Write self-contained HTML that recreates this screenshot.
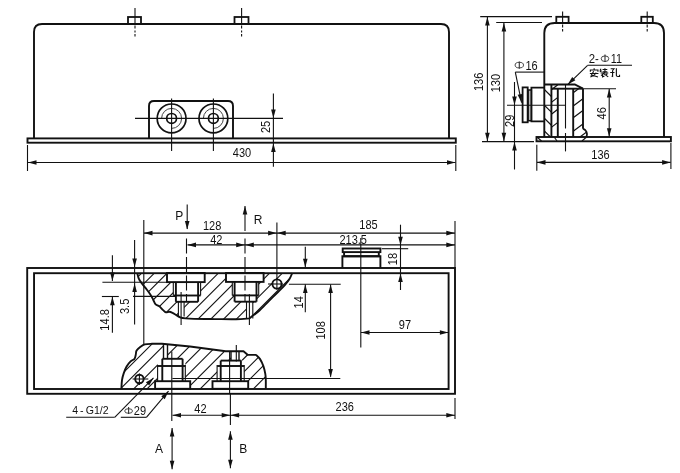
<!DOCTYPE html>
<html><head><meta charset="utf-8"><style>
html,body{margin:0;padding:0;background:#fff;width:680px;height:473px;overflow:hidden}
svg{display:block;font-family:"Liberation Sans",sans-serif;filter:blur(0.35px)}
</style></head><body>
<svg width="680" height="473" viewBox="0 0 680 473" font-family="'Liberation Sans', sans-serif">
<defs>
<clipPath id="clipSide"><path d="M544.3,84.5 H574.8 L583,88.7 V128.7 C586,130 588,133 587,137 H544.3 Z"/></clipPath>
<clipPath id="clipU"><path d="M137.3,273.3 C137.57,274.22 138.17,277.15 138.9,278.8 C139.63,280.45 140.5,281.55 141.7,283.2 C142.9,284.85 144.63,286.78 146.1,288.7 C147.57,290.62 149.32,292.87 150.5,294.7 C151.68,296.53 152.38,298.13 153.2,299.7 C154.02,301.27 154.38,303 155.4,304.1 C156.42,305.2 158.02,305.3 159.3,306.3 C160.58,307.3 162,309.1 163.1,310.1 C164.2,311.1 164.88,312.02 165.9,312.3 C166.92,312.58 168.1,311.7 169.2,311.8 C170.3,311.9 171.32,312.35 172.5,312.9 C173.68,313.45 175.02,314.37 176.3,315.1 C177.58,315.83 178.65,316.75 180.2,317.3 C181.75,317.85 183.3,318.13 185.6,318.4 C187.9,318.67 189.1,318.78 194,318.9 C198.9,319.02 208,319.05 215,319.1 C222,319.15 230.27,319.32 236,319.2 C241.73,319.08 247.17,318.53 249.4,318.4 L249.4,318.4 C250.17,317.8 252.28,316.17 254,314.8 C255.72,313.43 257.23,312.48 259.7,310.2 C262.17,307.92 265.75,304.13 268.8,301.1 C271.85,298.07 275.33,294.67 278,292 C280.67,289.33 282.88,287.27 284.8,285.1 C286.72,282.93 288.27,281 289.5,279 C290.73,277 291.75,274.08 292.2,273.1 Z"/></clipPath>
<clipPath id="clipL"><path d="M121.4,388.8 C121.5,387.37 121.62,382.77 122,380.2 C122.38,377.63 122.93,375.68 123.7,373.4 C124.47,371.12 125.45,368.5 126.6,366.5 C127.75,364.5 129.28,362.68 130.6,361.4 C131.92,360.12 133.65,359.85 134.5,358.8 C135.35,357.75 135.35,356.47 135.7,355.1 C136.05,353.73 135.8,351.98 136.6,350.6 C137.4,349.22 139.13,347.83 140.5,346.8 C141.87,345.77 142.88,344.9 144.8,344.4 C146.72,343.9 149.13,343.9 152,343.8 C154.87,343.7 160.33,343.8 162,343.8 L190,346.5 L225.7,351.3 L243.5,351.2 L247.9,354.9 L255.9,354.9 C256.57,355.57 258.67,357.07 259.9,358.9 C261.13,360.73 262.4,363.42 263.3,365.9 C264.2,368.38 264.88,371.45 265.3,373.8 C265.72,376.15 265.72,377.5 265.8,380 C265.88,382.5 265.8,387.33 265.8,388.8 Z"/></clipPath>
</defs>
<rect width="680" height="473" fill="#fff"/>
<path d="M34,138.5 V32 Q34,24 42,24 H441 Q449,24 449,32 V138.5" fill="none" stroke="#111" stroke-width="1.9"/>
<rect x="128" y="17" width="13" height="7" fill="none" stroke="#111" stroke-width="1.8"/>
<rect x="234.5" y="17" width="14" height="7" fill="none" stroke="#111" stroke-width="1.8"/>
<line x1="135" y1="8" x2="135" y2="24" stroke="#111" stroke-width="1.1"/>
<line x1="135" y1="25.5" x2="135" y2="28.5" stroke="#111" stroke-width="1.1"/>
<line x1="135" y1="30.5" x2="135" y2="32.5" stroke="#111" stroke-width="1.1"/>
<line x1="135" y1="34" x2="135" y2="36.5" stroke="#111" stroke-width="1.1"/>
<line x1="241.6" y1="8" x2="241.6" y2="24" stroke="#111" stroke-width="1.1"/>
<line x1="241.6" y1="25.5" x2="241.6" y2="28.5" stroke="#111" stroke-width="1.1"/>
<line x1="241.6" y1="30.5" x2="241.6" y2="32.5" stroke="#111" stroke-width="1.1"/>
<line x1="241.6" y1="34" x2="241.6" y2="36.5" stroke="#111" stroke-width="1.1"/>
<rect x="27.5" y="138.4" width="428.3" height="4.3" fill="none" stroke="#111" stroke-width="1.9"/>
<path d="M149,138.4 V106 Q149,101 154,101 H228 Q233,101 233,106 V138.4" fill="none" stroke="#111" stroke-width="1.9"/>
<circle cx="171.6" cy="118.4" r="14.4" fill="none" stroke="#111" stroke-width="1.7"/>
<circle cx="171.6" cy="118.4" r="4.9" fill="none" stroke="#111" stroke-width="1.7"/>
<path d="M161.60,118.40 A10.0,10.0 0 1 1 171.60,128.40" fill="none" stroke="#444" stroke-width="1.0"/>
<line x1="171.6" y1="98.5" x2="171.6" y2="151" stroke="#111" stroke-width="1.1"/>
<circle cx="213.4" cy="118.4" r="14.4" fill="none" stroke="#111" stroke-width="1.7"/>
<circle cx="213.4" cy="118.4" r="4.9" fill="none" stroke="#111" stroke-width="1.7"/>
<path d="M203.40,118.40 A10.0,10.0 0 1 1 213.40,128.40" fill="none" stroke="#444" stroke-width="1.0"/>
<line x1="213.4" y1="98.5" x2="213.4" y2="151" stroke="#111" stroke-width="1.1"/>
<line x1="135" y1="118.4" x2="283" y2="118.4" stroke="#111" stroke-width="1.1"/>
<line x1="27.5" y1="145" x2="27.5" y2="171" stroke="#111" stroke-width="1.1"/>
<line x1="455.8" y1="145" x2="455.8" y2="171" stroke="#111" stroke-width="1.1"/>
<line x1="28" y1="162.5" x2="455.5" y2="162.5" stroke="#111" stroke-width="1.1"/>
<polygon points="28.00,162.50 36.50,160.20 36.50,164.80" fill="#111"/>
<polygon points="455.50,162.50 447.00,164.80 447.00,160.20" fill="#111"/>
<text transform="translate(242,153.2) scale(0.92,1)" x="0" y="4.26" font-size="12" text-anchor="middle" fill="#111">430</text>
<line x1="273.4" y1="93.5" x2="273.4" y2="166.7" stroke="#111" stroke-width="1.1"/>
<polygon points="273.40,118.00 271.10,109.50 275.70,109.50" fill="#111"/>
<polygon points="273.40,143.50 275.70,152.00 271.10,152.00" fill="#111"/>
<text transform="translate(265.7,126.9) rotate(-90) scale(0.92,1)" x="0" y="4.26" font-size="12" text-anchor="middle" fill="#111">25</text>
<path d="M544.3,137 V33 Q544.3,23 554.8,23 H654 Q664,23 664,33 V137" fill="none" stroke="#111" stroke-width="1.9"/>
<rect x="556.3" y="16.8" width="12.3" height="6.2" fill="none" stroke="#111" stroke-width="1.8"/>
<rect x="641.3" y="16.8" width="11.5" height="6.2" fill="none" stroke="#111" stroke-width="1.8"/>
<line x1="562.6" y1="11.5" x2="562.6" y2="23" stroke="#111" stroke-width="1.1"/>
<line x1="562.6" y1="24.5" x2="562.6" y2="27.5" stroke="#111" stroke-width="1.1"/>
<line x1="562.6" y1="29" x2="562.6" y2="31.5" stroke="#111" stroke-width="1.1"/>
<line x1="647.2" y1="11.5" x2="647.2" y2="23" stroke="#111" stroke-width="1.1"/>
<line x1="647.2" y1="24.5" x2="647.2" y2="27.5" stroke="#111" stroke-width="1.1"/>
<line x1="647.2" y1="29" x2="647.2" y2="31.5" stroke="#111" stroke-width="1.1"/>
<rect x="536.5" y="137" width="134.4" height="4.3" fill="none" stroke="#111" stroke-width="1.9"/>
<line x1="537.5" y1="137.5" x2="541.5" y2="141" stroke="#111" stroke-width="1.1"/>
<line x1="554.5" y1="137.5" x2="557" y2="141" stroke="#111" stroke-width="1.1"/>
<line x1="582" y1="141" x2="586" y2="137.5" stroke="#111" stroke-width="1.1"/>
<line x1="480.2" y1="16.6" x2="552" y2="16.6" stroke="#111" stroke-width="1.1"/>
<line x1="496.2" y1="22.5" x2="542" y2="22.5" stroke="#111" stroke-width="1.1"/>
<line x1="482" y1="141.6" x2="534" y2="141.6" stroke="#111" stroke-width="1.1"/>
<line x1="487.4" y1="17" x2="487.4" y2="141.5" stroke="#111" stroke-width="1.1"/>
<polygon points="487.40,17.00 489.70,25.50 485.10,25.50" fill="#111"/>
<polygon points="487.40,141.30 485.10,132.80 489.70,132.80" fill="#111"/>
<text transform="translate(478.6,81.9) rotate(-90) scale(0.92,1)" x="0" y="4.26" font-size="12" text-anchor="middle" fill="#111">136</text>
<line x1="503.9" y1="23" x2="503.9" y2="141.5" stroke="#111" stroke-width="1.1"/>
<polygon points="503.90,23.00 506.20,31.50 501.60,31.50" fill="#111"/>
<polygon points="503.90,141.30 501.60,132.80 506.20,132.80" fill="#111"/>
<text transform="translate(496.1,83.1) rotate(-90) scale(0.92,1)" x="0" y="4.26" font-size="12" text-anchor="middle" fill="#111">130</text>
<line x1="514.5" y1="82" x2="514.5" y2="169.5" stroke="#111" stroke-width="1.1"/>
<polygon points="514.50,105.00 512.20,96.50 516.80,96.50" fill="#111"/>
<polygon points="514.50,142.00 516.80,150.50 512.20,150.50" fill="#111"/>
<text transform="translate(509.6,120.8) rotate(-90) scale(0.92,1)" x="0" y="4.26" font-size="12" text-anchor="middle" fill="#111">29</text>
<line x1="507" y1="105.3" x2="566" y2="105.3" stroke="#111" stroke-width="1.1"/>
<rect x="522.6" y="87.4" width="5.1" height="34.9" fill="none" stroke="#111" stroke-width="1.8"/>
<rect x="527.7" y="90" width="3.7" height="30.7" fill="none" stroke="#111" stroke-width="1.5"/>
<line x1="528.8" y1="90" x2="528.8" y2="120.7" stroke="#111" stroke-width="1.0"/>
<polyline points="544.3,87.7 531.4,87.7 531.4,121.3 544.3,121.3" fill="none" stroke="#111" stroke-width="1.8" stroke-linejoin="miter"/>
<ellipse cx="519.3" cy="65.1" rx="4.2" ry="2.8" fill="none" stroke="#333" stroke-width="0.9"/>
<line x1="519.3" y1="61.4" x2="519.3" y2="68.7" stroke="#333" stroke-width="1.1"/>
<text transform="translate(531.6,65.3) scale(0.92,1)" x="0" y="4.26" font-size="12" text-anchor="middle" fill="#111">16</text>
<line x1="515.3" y1="72.1" x2="545" y2="72.1" stroke="#111" stroke-width="1.1"/>
<line x1="515.3" y1="72.1" x2="521.6" y2="102.7" stroke="#111" stroke-width="1.1"/>
<polygon points="521.60,102.70 517.63,94.84 522.14,93.91" fill="#111"/>
<line x1="543.8" y1="76.3" x2="551.4" y2="83.8" stroke="#111" stroke-width="1.2" clip-path="url(#clipSide)"/>
<line x1="543.8" y1="89" x2="551.4" y2="96.5" stroke="#111" stroke-width="1.2" clip-path="url(#clipSide)"/>
<line x1="543.8" y1="104.6" x2="551.4" y2="112.1" stroke="#111" stroke-width="1.2" clip-path="url(#clipSide)"/>
<line x1="543.8" y1="117.7" x2="551.4" y2="125.2" stroke="#111" stroke-width="1.2" clip-path="url(#clipSide)"/>
<line x1="543.8" y1="130.4" x2="551.4" y2="137.9" stroke="#111" stroke-width="1.2" clip-path="url(#clipSide)"/>
<line x1="551.4" y1="89.8" x2="557.8" y2="84.8" stroke="#111" stroke-width="1.2" clip-path="url(#clipSide)"/>
<line x1="551.4" y1="102.4" x2="557.8" y2="97.4" stroke="#111" stroke-width="1.2" clip-path="url(#clipSide)"/>
<line x1="551.4" y1="114.3" x2="557.8" y2="109.3" stroke="#111" stroke-width="1.2" clip-path="url(#clipSide)"/>
<line x1="551.4" y1="127.4" x2="557.8" y2="122.4" stroke="#111" stroke-width="1.2" clip-path="url(#clipSide)"/>
<line x1="573.2" y1="92.7" x2="588" y2="81.7" stroke="#111" stroke-width="1.2" clip-path="url(#clipSide)"/>
<line x1="573.2" y1="106" x2="588" y2="95" stroke="#111" stroke-width="1.2" clip-path="url(#clipSide)"/>
<line x1="573.2" y1="117.7" x2="588" y2="106.7" stroke="#111" stroke-width="1.2" clip-path="url(#clipSide)"/>
<line x1="573.2" y1="131.2" x2="588" y2="120.2" stroke="#111" stroke-width="1.2" clip-path="url(#clipSide)"/>
<line x1="573.2" y1="142" x2="588" y2="131" stroke="#111" stroke-width="1.2" clip-path="url(#clipSide)"/>
<polyline points="544.3,84.5 574.8,84.5 583,88.7" fill="none" stroke="#111" stroke-width="1.9" stroke-linejoin="miter"/>
<line x1="551.4" y1="84.5" x2="551.4" y2="137" stroke="#111" stroke-width="1.9"/>
<line x1="557.8" y1="88.7" x2="557.8" y2="137" stroke="#111" stroke-width="1.9"/>
<line x1="573.2" y1="88.7" x2="573.2" y2="137" stroke="#111" stroke-width="1.9"/>
<line x1="583" y1="88.7" x2="583" y2="128.7" stroke="#111" stroke-width="1.9"/>
<path d="M583,128.7 C586,130 588,133 586.5,137" fill="none" stroke="#111" stroke-width="1.9"/>
<line x1="551.4" y1="88.7" x2="583" y2="88.7" stroke="#111" stroke-width="1.9"/>
<line x1="583" y1="88.7" x2="616" y2="88.7" stroke="#111" stroke-width="1.1"/>
<line x1="565.5" y1="85" x2="565.5" y2="128.5" stroke="#111" stroke-width="1.1"/>
<line x1="565.5" y1="133" x2="565.5" y2="151.4" stroke="#111" stroke-width="1.1"/>
<line x1="567.7" y1="84.6" x2="587.6" y2="65.3" stroke="#111" stroke-width="1.1"/>
<line x1="587.6" y1="65.3" x2="632" y2="65.3" stroke="#111" stroke-width="1.1"/>
<polygon points="567.70,84.60 572.20,77.03 575.40,80.33" fill="#111"/>
<text transform="translate(593.8,58.6) scale(0.95,1)" x="0" y="4.26" font-size="12" text-anchor="middle" fill="#111">2-</text>
<ellipse cx="605" cy="58.7" rx="3.8" ry="2.8" fill="none" stroke="#333" stroke-width="0.9"/>
<line x1="605" y1="54.5" x2="605" y2="62" stroke="#333" stroke-width="1.1"/>
<text transform="translate(616.4,58.7) scale(0.9,1)" x="0" y="4.26" font-size="12" text-anchor="middle" fill="#111">11</text>
<line x1="609.2" y1="89" x2="609.2" y2="136.8" stroke="#111" stroke-width="1.1"/>
<polygon points="609.20,89.00 611.50,97.50 606.90,97.50" fill="#111"/>
<polygon points="609.20,136.80 606.90,128.30 611.50,128.30" fill="#111"/>
<text transform="translate(601.8,113.3) rotate(-90) scale(0.92,1)" x="0" y="4.26" font-size="12" text-anchor="middle" fill="#111">46</text>
<line x1="536.8" y1="144.8" x2="536.8" y2="170.8" stroke="#111" stroke-width="1.1"/>
<line x1="670.9" y1="143" x2="670.9" y2="169" stroke="#111" stroke-width="1.1"/>
<line x1="537" y1="162.4" x2="670.6" y2="162.4" stroke="#111" stroke-width="1.1"/>
<polygon points="537.00,162.40 545.50,160.10 545.50,164.70" fill="#111"/>
<polygon points="670.60,162.40 662.10,164.70 662.10,160.10" fill="#111"/>
<text transform="translate(600.5,154.6) scale(0.92,1)" x="0" y="4.26" font-size="12" text-anchor="middle" fill="#111">136</text>
<line x1="141.9" y1="260" x2="1.9" y2="400" stroke="#111" stroke-width="1.1" clip-path="url(#clipU)"/>
<line x1="154.7" y1="260" x2="14.7" y2="400" stroke="#111" stroke-width="1.1" clip-path="url(#clipU)"/>
<line x1="167.5" y1="260" x2="27.5" y2="400" stroke="#111" stroke-width="1.1" clip-path="url(#clipU)"/>
<line x1="180.3" y1="260" x2="40.3" y2="400" stroke="#111" stroke-width="1.1" clip-path="url(#clipU)"/>
<line x1="193.1" y1="260" x2="53.1" y2="400" stroke="#111" stroke-width="1.1" clip-path="url(#clipU)"/>
<line x1="205.9" y1="260" x2="65.9" y2="400" stroke="#111" stroke-width="1.1" clip-path="url(#clipU)"/>
<line x1="218.7" y1="260" x2="78.7" y2="400" stroke="#111" stroke-width="1.1" clip-path="url(#clipU)"/>
<line x1="231.5" y1="260" x2="91.5" y2="400" stroke="#111" stroke-width="1.1" clip-path="url(#clipU)"/>
<line x1="244.3" y1="260" x2="104.3" y2="400" stroke="#111" stroke-width="1.1" clip-path="url(#clipU)"/>
<line x1="257.1" y1="260" x2="117.1" y2="400" stroke="#111" stroke-width="1.1" clip-path="url(#clipU)"/>
<line x1="269.9" y1="260" x2="129.9" y2="400" stroke="#111" stroke-width="1.1" clip-path="url(#clipU)"/>
<line x1="282.7" y1="260" x2="142.7" y2="400" stroke="#111" stroke-width="1.1" clip-path="url(#clipU)"/>
<line x1="295.5" y1="260" x2="155.5" y2="400" stroke="#111" stroke-width="1.1" clip-path="url(#clipU)"/>
<line x1="308.3" y1="260" x2="168.3" y2="400" stroke="#111" stroke-width="1.1" clip-path="url(#clipU)"/>
<line x1="321.1" y1="260" x2="181.1" y2="400" stroke="#111" stroke-width="1.1" clip-path="url(#clipU)"/>
<line x1="333.9" y1="260" x2="193.9" y2="400" stroke="#111" stroke-width="1.1" clip-path="url(#clipU)"/>
<line x1="236" y1="260" x2="96" y2="400" stroke="#111" stroke-width="1.1" clip-path="url(#clipL)"/>
<line x1="249.3" y1="260" x2="109.3" y2="400" stroke="#111" stroke-width="1.1" clip-path="url(#clipL)"/>
<line x1="262.6" y1="260" x2="122.6" y2="400" stroke="#111" stroke-width="1.1" clip-path="url(#clipL)"/>
<line x1="275.9" y1="260" x2="135.9" y2="400" stroke="#111" stroke-width="1.1" clip-path="url(#clipL)"/>
<line x1="289.2" y1="260" x2="149.2" y2="400" stroke="#111" stroke-width="1.1" clip-path="url(#clipL)"/>
<line x1="302.5" y1="260" x2="162.5" y2="400" stroke="#111" stroke-width="1.1" clip-path="url(#clipL)"/>
<line x1="315.8" y1="260" x2="175.8" y2="400" stroke="#111" stroke-width="1.1" clip-path="url(#clipL)"/>
<line x1="329.1" y1="260" x2="189.1" y2="400" stroke="#111" stroke-width="1.1" clip-path="url(#clipL)"/>
<line x1="342.4" y1="260" x2="202.4" y2="400" stroke="#111" stroke-width="1.1" clip-path="url(#clipL)"/>
<line x1="355.7" y1="260" x2="215.7" y2="400" stroke="#111" stroke-width="1.1" clip-path="url(#clipL)"/>
<line x1="369" y1="260" x2="229" y2="400" stroke="#111" stroke-width="1.1" clip-path="url(#clipL)"/>
<line x1="382.3" y1="260" x2="242.3" y2="400" stroke="#111" stroke-width="1.1" clip-path="url(#clipL)"/>
<line x1="395.6" y1="260" x2="255.6" y2="400" stroke="#111" stroke-width="1.1" clip-path="url(#clipL)"/>
<rect x="167" y="273" width="37.7" height="9.1" fill="#fff"/>
<rect x="173.3" y="282.1" width="27.3" height="13.4" fill="#fff"/>
<rect x="175.9" y="295.5" width="22.2" height="6.3" fill="#fff"/>
<rect x="178.4" y="301.8" width="5.7" height="14.7" fill="#fff"/>
<rect x="167" y="273" width="37.7" height="9.1" fill="none" stroke="#111" stroke-width="1.9"/>
<line x1="175.9" y1="282.1" x2="175.9" y2="301.8" stroke="#111" stroke-width="1.9"/>
<line x1="198.1" y1="282.1" x2="198.1" y2="301.8" stroke="#111" stroke-width="1.9"/>
<line x1="173.3" y1="282.1" x2="173.3" y2="295.5" stroke="#111" stroke-width="1.1"/>
<line x1="200.6" y1="282.1" x2="200.6" y2="295.5" stroke="#111" stroke-width="1.1"/>
<line x1="173.3" y1="295.5" x2="200.6" y2="295.5" stroke="#111" stroke-width="1.9"/>
<line x1="175.9" y1="301.8" x2="198.1" y2="301.8" stroke="#111" stroke-width="1.9"/>
<line x1="178.4" y1="301.8" x2="178.4" y2="316.5" stroke="#111" stroke-width="1.1"/>
<line x1="184.1" y1="301.8" x2="184.1" y2="316.5" stroke="#111" stroke-width="1.1"/>
<rect x="226" y="273" width="37.6" height="8.9" fill="#fff"/>
<rect x="232.3" y="281.9" width="26.4" height="13.5" fill="#fff"/>
<rect x="234.6" y="295.4" width="21.9" height="6.3" fill="#fff"/>
<rect x="246.5" y="301.7" width="6.3" height="16.9" fill="#fff"/>
<rect x="226" y="273" width="37.6" height="8.9" fill="none" stroke="#111" stroke-width="1.9"/>
<line x1="234.6" y1="281.9" x2="234.6" y2="301.7" stroke="#111" stroke-width="1.9"/>
<line x1="256.5" y1="281.9" x2="256.5" y2="301.7" stroke="#111" stroke-width="1.9"/>
<line x1="232.3" y1="281.9" x2="232.3" y2="295.4" stroke="#111" stroke-width="1.1"/>
<line x1="258.7" y1="281.9" x2="258.7" y2="295.4" stroke="#111" stroke-width="1.1"/>
<line x1="232.3" y1="295.4" x2="258.7" y2="295.4" stroke="#111" stroke-width="1.9"/>
<line x1="234.6" y1="301.7" x2="256.5" y2="301.7" stroke="#111" stroke-width="1.9"/>
<line x1="246.5" y1="301.7" x2="246.5" y2="318.6" stroke="#111" stroke-width="1.1"/>
<line x1="252.8" y1="301.7" x2="252.8" y2="318.6" stroke="#111" stroke-width="1.1"/>
<rect x="155.1" y="381.2" width="35.1" height="7.6" fill="#fff"/>
<rect x="157.6" y="358.8" width="27.7" height="22.2" fill="#fff"/>
<rect x="163.5" y="344" width="4" height="14.8" fill="#fff"/>
<rect x="155.1" y="381.2" width="35.1" height="7.6" fill="none" stroke="#111" stroke-width="1.9"/>
<line x1="162.3" y1="358.8" x2="162.3" y2="381" stroke="#111" stroke-width="1.9"/>
<line x1="182.6" y1="358.8" x2="182.6" y2="381" stroke="#111" stroke-width="1.9"/>
<line x1="157.6" y1="365" x2="157.6" y2="381" stroke="#111" stroke-width="1.1"/>
<line x1="185.3" y1="365" x2="185.3" y2="381" stroke="#111" stroke-width="1.1"/>
<line x1="157.6" y1="366" x2="185.3" y2="366" stroke="#111" stroke-width="1.9"/>
<line x1="162.3" y1="358.8" x2="182.6" y2="358.8" stroke="#111" stroke-width="1.9"/>
<line x1="163.5" y1="344" x2="163.5" y2="358.8" stroke="#111" stroke-width="1.4"/>
<line x1="167.5" y1="344" x2="167.5" y2="358.8" stroke="#111" stroke-width="1.4"/>
<rect x="212.5" y="381.2" width="35.7" height="7.6" fill="#fff"/>
<rect x="217.1" y="360.6" width="27.1" height="20.4" fill="#fff"/>
<rect x="231" y="351.3" width="8" height="9.3" fill="#fff"/>
<rect x="212.5" y="381.2" width="35.7" height="7.6" fill="none" stroke="#111" stroke-width="1.9"/>
<line x1="220.7" y1="360.6" x2="220.7" y2="381" stroke="#111" stroke-width="1.9"/>
<line x1="240.9" y1="360.6" x2="240.9" y2="381" stroke="#111" stroke-width="1.9"/>
<line x1="217.1" y1="365" x2="217.1" y2="381" stroke="#111" stroke-width="1.1"/>
<line x1="244.2" y1="365" x2="244.2" y2="381" stroke="#111" stroke-width="1.1"/>
<line x1="217.1" y1="366" x2="244.2" y2="366" stroke="#111" stroke-width="1.9"/>
<line x1="220.7" y1="360.6" x2="240.9" y2="360.6" stroke="#111" stroke-width="1.9"/>
<line x1="231" y1="351.3" x2="231" y2="360.6" stroke="#111" stroke-width="1.4"/>
<line x1="239" y1="351.3" x2="239" y2="360.6" stroke="#111" stroke-width="1.4"/>
<path d="M137.3,273.3 C137.57,274.22 138.17,277.15 138.9,278.8 C139.63,280.45 140.5,281.55 141.7,283.2 C142.9,284.85 144.63,286.78 146.1,288.7 C147.57,290.62 149.32,292.87 150.5,294.7 C151.68,296.53 152.38,298.13 153.2,299.7 C154.02,301.27 154.38,303 155.4,304.1 C156.42,305.2 158.02,305.3 159.3,306.3 C160.58,307.3 162,309.1 163.1,310.1 C164.2,311.1 164.88,312.02 165.9,312.3 C166.92,312.58 168.1,311.7 169.2,311.8 C170.3,311.9 171.32,312.35 172.5,312.9 C173.68,313.45 175.02,314.37 176.3,315.1 C177.58,315.83 178.65,316.75 180.2,317.3 C181.75,317.85 183.3,318.13 185.6,318.4 C187.9,318.67 189.1,318.78 194,318.9 C198.9,319.02 208,319.05 215,319.1 C222,319.15 230.27,319.32 236,319.2 C241.73,319.08 247.17,318.53 249.4,318.4 L249.4,318.4 C250.17,317.8 252.28,316.17 254,314.8 C255.72,313.43 257.23,312.48 259.7,310.2 C262.17,307.92 265.75,304.13 268.8,301.1 C271.85,298.07 275.33,294.67 278,292 C280.67,289.33 282.88,287.27 284.8,285.1 C286.72,282.93 288.27,281 289.5,279 C290.73,277 291.75,274.08 292.2,273.1" fill="none" stroke="#111" stroke-width="1.9" stroke-linejoin="round"/>
<path d="M121.4,388.8 C121.5,387.37 121.62,382.77 122,380.2 C122.38,377.63 122.93,375.68 123.7,373.4 C124.47,371.12 125.45,368.5 126.6,366.5 C127.75,364.5 129.28,362.68 130.6,361.4 C131.92,360.12 133.65,359.85 134.5,358.8 C135.35,357.75 135.35,356.47 135.7,355.1 C136.05,353.73 135.8,351.98 136.6,350.6 C137.4,349.22 139.13,347.83 140.5,346.8 C141.87,345.77 142.88,344.9 144.8,344.4 C146.72,343.9 149.13,343.9 152,343.8 C154.87,343.7 160.33,343.8 162,343.8 L190,346.5 L225.7,351.3 L243.5,351.2 L247.9,354.9 L255.9,354.9 C256.57,355.57 258.67,357.07 259.9,358.9 C261.13,360.73 262.4,363.42 263.3,365.9 C264.2,368.38 264.88,371.45 265.3,373.8 C265.72,376.15 265.72,377.5 265.8,380 C265.88,382.5 265.8,387.33 265.8,388.8" fill="none" stroke="#111" stroke-width="1.9" stroke-linejoin="round"/>
<rect x="27.2" y="268" width="427.8" height="125.8" fill="none" stroke="#111" stroke-width="1.9"/>
<rect x="34.05" y="273.2" width="414.55" height="115.8" fill="none" stroke="#111" stroke-width="1.9"/>
<line x1="186.5" y1="238.5" x2="186.5" y2="301.8" stroke="#111" stroke-width="1.1" stroke-dasharray="15,3.5"/>
<line x1="181.1" y1="292" x2="181.1" y2="325" stroke="#111" stroke-width="1.1"/>
<line x1="245" y1="238.5" x2="245" y2="301.7" stroke="#111" stroke-width="1.1" stroke-dasharray="15,3.5"/>
<line x1="249.4" y1="294.3" x2="249.4" y2="325" stroke="#111" stroke-width="1.1"/>
<line x1="171.8" y1="351.6" x2="171.8" y2="421" stroke="#111" stroke-width="1.1"/>
<line x1="236.3" y1="345" x2="236.3" y2="361.5" stroke="#111" stroke-width="1.1"/>
<line x1="229.6" y1="351" x2="229.6" y2="393" stroke="#111" stroke-width="1.1"/>
<line x1="230.4" y1="393" x2="230.4" y2="425" stroke="#111" stroke-width="1.1"/>
<line x1="143.8" y1="220" x2="143.8" y2="344.4" stroke="#111" stroke-width="1.1"/>
<line x1="276.9" y1="222.4" x2="276.9" y2="289.6" stroke="#111" stroke-width="1.1"/>
<line x1="102.4" y1="282.2" x2="167" y2="282.2" stroke="#111" stroke-width="1.1"/>
<line x1="101.9" y1="296.5" x2="118.8" y2="296.5" stroke="#111" stroke-width="1.1"/>
<line x1="133" y1="296.4" x2="176" y2="296.4" stroke="#111" stroke-width="1.1"/>
<line x1="172.4" y1="378.5" x2="340.3" y2="378.5" stroke="#111" stroke-width="1.1"/>
<circle cx="277" cy="284" r="4.6" fill="#fff" stroke="#111" stroke-width="1.9"/>
<line x1="268" y1="284" x2="283" y2="284" stroke="#111" stroke-width="1.1"/>
<line x1="276.9" y1="278" x2="276.9" y2="289.6" stroke="#111" stroke-width="1.1"/>
<circle cx="139.4" cy="379" r="4.2" fill="#fff" stroke="#111" stroke-width="1.9"/>
<line x1="132.6" y1="379" x2="148.3" y2="379" stroke="#111" stroke-width="1.1"/>
<line x1="139.4" y1="373.5" x2="139.4" y2="385" stroke="#111" stroke-width="1.1"/>
<line x1="187.2" y1="204.4" x2="187.2" y2="229" stroke="#111" stroke-width="1.1"/>
<polygon points="187.20,229.40 184.90,220.90 189.50,220.90" fill="#111"/>
<text transform="translate(179.2,215.5)" x="0" y="4.26" font-size="12" text-anchor="middle" fill="#111">P</text>
<line x1="245" y1="206" x2="245" y2="231" stroke="#111" stroke-width="1.1"/>
<polygon points="245.00,206.00 247.30,214.50 242.70,214.50" fill="#111"/>
<text transform="translate(258.2,219.9)" x="0" y="4.26" font-size="12" text-anchor="middle" fill="#111">R</text>
<line x1="144" y1="233.1" x2="455" y2="233.1" stroke="#111" stroke-width="1.1"/>
<polygon points="144.00,233.10 152.50,230.80 152.50,235.40" fill="#111"/>
<polygon points="276.60,233.10 268.10,235.40 268.10,230.80" fill="#111"/>
<polygon points="277.20,233.10 285.70,230.80 285.70,235.40" fill="#111"/>
<polygon points="454.80,233.10 446.30,235.40 446.30,230.80" fill="#111"/>
<text transform="translate(212.1,225.3) scale(0.92,1)" x="0" y="4.26" font-size="12" text-anchor="middle" fill="#111">128</text>
<text transform="translate(368.5,225) scale(0.92,1)" x="0" y="4.26" font-size="12" text-anchor="middle" fill="#111">185</text>
<line x1="187.5" y1="244.9" x2="455" y2="244.9" stroke="#111" stroke-width="1.1"/>
<polygon points="187.50,244.90 196.00,242.60 196.00,247.20" fill="#111"/>
<polygon points="244.70,244.90 236.20,247.20 236.20,242.60" fill="#111"/>
<polygon points="245.30,244.90 253.80,242.60 253.80,247.20" fill="#111"/>
<polygon points="454.80,244.90 446.30,247.20 446.30,242.60" fill="#111"/>
<text transform="translate(216.3,240) scale(0.92,1)" x="0" y="4.26" font-size="12" text-anchor="middle" fill="#111">42</text>
<text transform="translate(353.2,240.1) scale(0.92,1)" x="0" y="4.26" font-size="12" text-anchor="middle" fill="#111">213.5</text>
<line x1="455" y1="221" x2="455" y2="268" stroke="#111" stroke-width="1.1"/>
<rect x="342.7" y="248.5" width="37.7" height="3.6" fill="none" stroke="#111" stroke-width="1.9"/>
<polyline points="344.1,252.1 344.1,256.2 378.8,256.2 378.8,252.1" fill="none" stroke="#111" stroke-width="1.9" stroke-linejoin="miter"/>
<polyline points="342.4,268 342.4,256.2 380.4,256.2 380.4,268" fill="none" stroke="#111" stroke-width="1.9" stroke-linejoin="miter"/>
<line x1="360.8" y1="238" x2="360.8" y2="347.6" stroke="#111" stroke-width="1.1"/>
<line x1="400.5" y1="224.7" x2="400.5" y2="290" stroke="#111" stroke-width="1.1"/>
<polygon points="400.50,245.30 398.20,236.80 402.80,236.80" fill="#111"/>
<polygon points="400.50,273.60 402.80,282.10 398.20,282.10" fill="#111"/>
<line x1="381.8" y1="248.7" x2="408.2" y2="248.7" stroke="#111" stroke-width="1.1"/>
<text transform="translate(392.4,259.1) rotate(-90) scale(0.92,1)" x="0" y="4.26" font-size="12" text-anchor="middle" fill="#111">18</text>
<line x1="305.3" y1="246.8" x2="305.3" y2="267.5" stroke="#111" stroke-width="1.1"/>
<polygon points="305.30,267.30 303.00,258.80 307.60,258.80" fill="#111"/>
<line x1="305.3" y1="284.2" x2="305.3" y2="312.3" stroke="#111" stroke-width="1.1"/>
<polygon points="305.30,284.40 307.60,292.90 303.00,292.90" fill="#111"/>
<line x1="288.9" y1="284.2" x2="340.7" y2="284.2" stroke="#111" stroke-width="1.1"/>
<text transform="translate(299.2,302.3) rotate(-90) scale(0.92,1)" x="0" y="4.26" font-size="12" text-anchor="middle" fill="#111">14</text>
<line x1="330.6" y1="284.4" x2="330.6" y2="376.7" stroke="#111" stroke-width="1.1"/>
<polygon points="330.60,284.40 332.90,292.90 328.30,292.90" fill="#111"/>
<polygon points="330.60,377.50 328.30,369.00 332.90,369.00" fill="#111"/>
<text transform="translate(321.2,330.4) rotate(-90) scale(0.92,1)" x="0" y="4.26" font-size="12" text-anchor="middle" fill="#111">108</text>
<line x1="360.9" y1="332.5" x2="448.5" y2="332.5" stroke="#111" stroke-width="1.1"/>
<polygon points="361.00,332.50 369.50,330.20 369.50,334.80" fill="#111"/>
<polygon points="448.40,332.50 439.90,334.80 439.90,330.20" fill="#111"/>
<text transform="translate(405,324.3) scale(0.92,1)" x="0" y="4.26" font-size="12" text-anchor="middle" fill="#111">97</text>
<line x1="455" y1="397.9" x2="455" y2="419" stroke="#111" stroke-width="1.1"/>
<line x1="172.5" y1="415.2" x2="455" y2="415.2" stroke="#111" stroke-width="1.1"/>
<polygon points="172.50,415.20 181.00,412.90 181.00,417.50" fill="#111"/>
<polygon points="230.20,415.20 221.70,417.50 221.70,412.90" fill="#111"/>
<polygon points="230.60,415.20 239.10,412.90 239.10,417.50" fill="#111"/>
<polygon points="454.80,415.20 446.30,417.50 446.30,412.90" fill="#111"/>
<text transform="translate(200.5,408.9) scale(0.92,1)" x="0" y="4.26" font-size="12" text-anchor="middle" fill="#111">42</text>
<text transform="translate(344.8,407.1) scale(0.92,1)" x="0" y="4.26" font-size="12" text-anchor="middle" fill="#111">236</text>
<line x1="172.1" y1="428" x2="172.1" y2="469.2" stroke="#111" stroke-width="1.1"/>
<polygon points="172.10,428.00 174.40,436.50 169.80,436.50" fill="#111"/>
<polygon points="172.10,469.20 169.80,460.70 174.40,460.70" fill="#111"/>
<line x1="230.4" y1="431.2" x2="230.4" y2="468.2" stroke="#111" stroke-width="1.1"/>
<polygon points="230.40,431.20 232.70,439.70 228.10,439.70" fill="#111"/>
<polygon points="230.40,468.20 228.10,459.70 232.70,459.70" fill="#111"/>
<text transform="translate(158.9,448.6)" x="0" y="4.26" font-size="12" text-anchor="middle" fill="#111">A</text>
<text transform="translate(243.3,448.6)" x="0" y="4.26" font-size="12" text-anchor="middle" fill="#111">B</text>
<text transform="translate(90.4,410) scale(0.92,1)" x="0" y="4.08" font-size="11.5" text-anchor="middle" fill="#111">4 - G1/2</text>
<line x1="66.2" y1="417.3" x2="114.7" y2="417.3" stroke="#111" stroke-width="1.1"/>
<line x1="114.7" y1="417.3" x2="153.5" y2="377.9" stroke="#111" stroke-width="1.1"/>
<polygon points="153.50,377.90 149.17,385.57 145.90,382.34" fill="#111"/>
<ellipse cx="128.6" cy="411" rx="3.9" ry="2.3" fill="none" stroke="#333" stroke-width="0.9"/>
<line x1="128.6" y1="407" x2="128.6" y2="414" stroke="#333" stroke-width="1.1"/>
<text transform="translate(140,411.2) scale(0.92,1)" x="0" y="4.26" font-size="12" text-anchor="middle" fill="#111">29</text>
<line x1="120.8" y1="417.3" x2="146.4" y2="417.3" stroke="#111" stroke-width="1.1"/>
<line x1="146.4" y1="417.3" x2="168.5" y2="391.2" stroke="#111" stroke-width="1.1"/>
<polygon points="168.50,391.20 164.76,399.17 161.25,396.20" fill="#111"/>
<line x1="112.4" y1="255.3" x2="112.4" y2="281" stroke="#111" stroke-width="1.1"/>
<polygon points="112.40,281.00 110.10,272.50 114.70,272.50" fill="#111"/>
<line x1="112.4" y1="296.6" x2="112.4" y2="332.8" stroke="#111" stroke-width="1.1"/>
<polygon points="112.40,296.80 114.70,305.30 110.10,305.30" fill="#111"/>
<text transform="translate(104.5,319.9) rotate(-90) scale(0.92,1)" x="0" y="4.26" font-size="12" text-anchor="middle" fill="#111">14.8</text>
<line x1="134.6" y1="240" x2="134.6" y2="324.4" stroke="#111" stroke-width="1.1"/>
<polygon points="134.60,267.00 132.30,258.50 136.90,258.50" fill="#111"/>
<polygon points="134.60,283.50 136.90,292.00 132.30,292.00" fill="#111"/>
<text transform="translate(125.1,306.4) rotate(-90) scale(0.92,1)" x="0" y="4.26" font-size="12" text-anchor="middle" fill="#111">3.5</text>
<path transform="translate(589.4,68.3) scale(0.95,0.86)" d="M5,0 V1.5 M1,4 V2 H9 V4 M4.5,3.5 Q3,6.5 2,8 Q6,9 9,10 M7,5 Q6,8 1,10 M0.5,6 H9.5" fill="none" stroke="#111" stroke-width="1.2" stroke-linecap="butt"/>
<path transform="translate(599.7,68.3) scale(0.95,0.86)" d="M1,0.5 V4 M0,2 L2,3 M0,4 L2,3.5 M3,1.5 H8 M5.5,0 V4 M3,4 H8 M5,4.5 V5 M1,5.5 H9 M4.5,5.5 L1.5,8.5 M3,7 V10 L5,9 M4.5,6.5 L9,10 M8,6.5 L6.5,8" fill="none" stroke="#111" stroke-width="1.2" stroke-linecap="butt"/>
<path transform="translate(610.2,68.3) scale(0.95,0.86)" d="M0.5,0.5 H4 L2.5,2.5 M2.5,2.5 V9.5 L1.5,9 M0,5 H4.5 M6.5,0 V8.5 Q6.5,9.5 8,9.5 H9.8 V7.5" fill="none" stroke="#111" stroke-width="1.2" stroke-linecap="butt"/>
</svg>
</body></html>
